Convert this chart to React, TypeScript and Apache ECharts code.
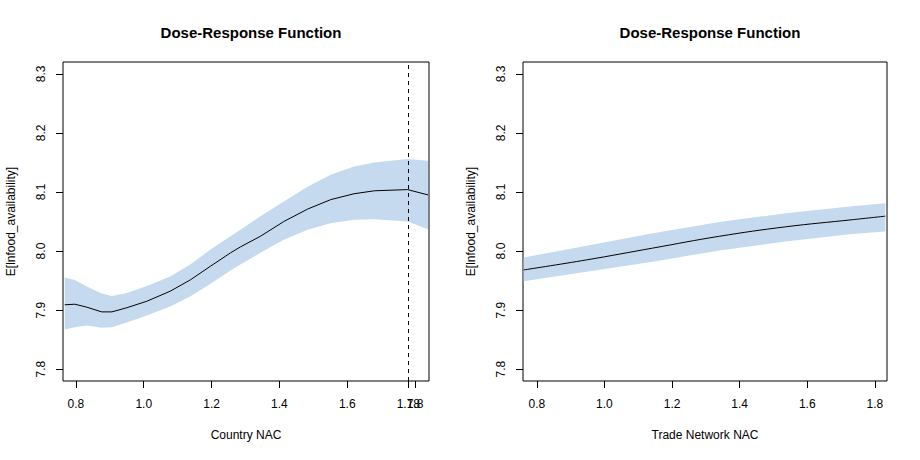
import React, { useEffect, useRef } from "react";
import * as echarts from "echarts";

// Left panel: Country NAC
const countryX = [0.767, 0.797, 0.832, 0.876, 0.906, 0.95, 1.009, 1.078, 1.137, 1.196, 1.256, 1.285, 1.344, 1.413, 1.483, 1.551, 1.62, 1.68, 1.778, 1.838];
const countryFit = [7.909, 7.91, 7.905, 7.897, 7.897, 7.904, 7.915, 7.932, 7.951, 7.974, 7.997, 8.007, 8.025, 8.05, 8.071, 8.087, 8.097, 8.102, 8.104, 8.095];
const countryUpper = [7.955, 7.951, 7.94, 7.928, 7.924, 7.929, 7.941, 7.957, 7.977, 8.002, 8.025, 8.036, 8.059, 8.084, 8.109, 8.129, 8.143, 8.15, 8.156, 8.153];
const countryLower = [7.867, 7.871, 7.874, 7.87, 7.871, 7.879, 7.891, 7.906, 7.923, 7.944, 7.967, 7.977, 7.997, 8.019, 8.036, 8.047, 8.053, 8.054, 8.05, 8.037];
const countryCut = 1.78;

// Right panel: Trade Network NAC
const tradeX = [0.761, 0.947, 1.143, 1.34, 1.536, 1.733, 1.831];
const tradeFit = [7.968, 7.985, 8.005, 8.025, 8.041, 8.053, 8.059];
const tradeUpper = [7.989, 8.009, 8.03, 8.049, 8.064, 8.076, 8.081];
const tradeLower = [7.949, 7.965, 7.982, 8.001, 8.016, 8.029, 8.033];

const yTicks = [7.8, 7.9, 8.0, 8.1, 8.2, 8.3];
const countryTicks = [0.8, 1.0, 1.2, 1.4, 1.6, 1.8];
const cutTicks = [1.78];
const tradeTicks = [0.8, 1.0, 1.2, 1.4, 1.6, 1.8];

const TITLE = "Dose-Response Function";
const Y_NAME = "E[lnfood_availability]";
const FONT = "'Liberation Sans', Arial, Helvetica, sans-serif";
const BAND = "#c6daef";

function xAxisFor(gridIndex: number, name: string, min: number, max: number, ticks: number[], digits: number) {
  return {
    type: "value",
    gridIndex,
    position: "bottom",
    offset: 0,
    min,
    max,
    name,
    nameLocation: "middle",
    nameGap: 48,
    nameTextStyle: { color: "#000", fontFamily: FONT, fontSize: 12 },
    axisLine: { show: false },
    splitLine: { show: false },
    axisTick: { show: true, inside: false, length: 7, customValues: ticks, lineStyle: { color: "#000", width: 1 } },
    axisLabel: {
      show: true,
      hideOverlap: false,
      customValues: ticks,
      margin: 17,
      color: "#000",
      fontFamily: FONT,
      fontSize: 12,
      formatter: (v: number) => v.toFixed(digits),
    },
  };
}

function yAxisFor(gridIndex: number) {
  return {
    type: "value",
    gridIndex,
    min: 7.78,
    max: 8.32,
    name: Y_NAME,
    nameLocation: "middle",
    nameGap: 46,
    nameTextStyle: { color: "#000", fontFamily: FONT, fontSize: 12 },
    axisLine: { show: false },
    splitLine: { show: false },
    axisTick: { show: true, inside: false, length: 7, customValues: yTicks, lineStyle: { color: "#000", width: 1 } },
    axisLabel: {
      show: true,
      customValues: yTicks,
      rotate: 90,
      margin: 16,
      color: "#000",
      fontFamily: FONT,
      fontSize: 12,
      formatter: (v: number) => v.toFixed(1),
    },
  };
}

function bandSeries(xIdx: number, yIdx: number, xs: number[], lower: number[], upper: number[]) {
  return {
    type: "custom",
    xAxisIndex: xIdx,
    yAxisIndex: yIdx,
    silent: true,
    clip: true,
    z: 1,
    data: [[xs[0], lower[0]]],
    encode: { x: 0, y: 1 },
    renderItem: (_params: any, api: any) => {
      const pts: number[][] = [];
      for (let i = 0; i < xs.length; i++) pts.push(api.coord([xs[i], upper[i]]));
      for (let i = xs.length - 1; i >= 0; i--) pts.push(api.coord([xs[i], lower[i]]));
      return {
        type: "polygon",
        shape: { points: pts },
        style: { fill: BAND, stroke: "none" },
      };
    },
  };
}

export default function App() {
  const ref = useRef<HTMLDivElement>(null);
  useEffect(() => {
    if (!ref.current) return;
    const chart = echarts.init(ref.current, null, { renderer: "svg" });
    const titleStyle = { fontFamily: FONT, fontSize: 15, fontWeight: "bold", color: "#000" };
    const option = {
      animation: false,
      backgroundColor: "#fff",
      title: [
        { text: TITLE, left: 246, top: 20, textAlign: "center", textStyle: titleStyle },
        { text: TITLE, left: 705, top: 20, textAlign: "center", textStyle: titleStyle },
      ],
      grid: [
        { left: 63, top: 62, width: 366, height: 319, show: true, borderColor: "#000", borderWidth: 1, backgroundColor: "transparent" },
        { left: 523, top: 62, width: 364, height: 319, show: true, borderColor: "#000", borderWidth: 1, backgroundColor: "transparent" },
      ],
      xAxis: [
        xAxisFor(0, "Country NAC", 0.762, 1.841, countryTicks, 1),
        xAxisFor(1, "Trade Network NAC", 0.759, 1.836, tradeTicks, 1),
        { ...xAxisFor(0, "", 0.762, 1.841, cutTicks, 2), name: "" },
      ],
      yAxis: [yAxisFor(0), yAxisFor(1)],
      series: [
        bandSeries(0, 0, countryX, countryLower, countryUpper),
        {
          type: "line",
          xAxisIndex: 0,
          yAxisIndex: 0,
          symbol: "none",
          smooth: false,
          z: 3,
          lineStyle: { color: "#000", width: 1 },
          data: countryX.map((x, i) => [x, countryFit[i]]),
          markLine: {
            silent: true,
            symbol: ["none", "none"],
            label: { show: false },
            lineStyle: { color: "#000", width: 1, type: [4, 4] },
            data: [{ xAxis: countryCut }],
          },
        },
        bandSeries(1, 1, tradeX, tradeLower, tradeUpper),
        {
          type: "line",
          xAxisIndex: 1,
          yAxisIndex: 1,
          symbol: "none",
          smooth: 0.4,
          z: 3,
          lineStyle: { color: "#000", width: 1 },
          data: tradeX.map((x, i) => [x, tradeFit[i]]),
        },
      ],
    };
    chart.setOption(option as any);
    return () => chart.dispose();
  }, []);
  return (
    <div
      ref={ref}
      style={{ position: "fixed", left: 0, top: 0, width: 920, height: 460, background: "#fff" }}
    />
  );
}
